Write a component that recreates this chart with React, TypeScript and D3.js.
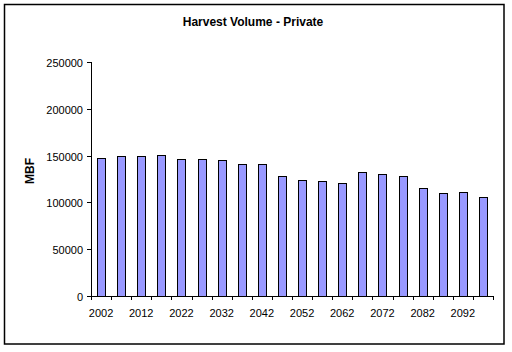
import { useEffect, useRef } from "react";
import * as d3 from "d3";

// Harvest volume per period (MBF)
const years = [
  2002, 2007, 2012, 2017, 2022, 2027, 2032, 2037, 2042, 2047,
  2052, 2057, 2062, 2067, 2072, 2077, 2082, 2087, 2092, 2097,
];
const volumes = [
  147800, 150000, 150000, 150800, 146500, 146500, 145400, 141200, 141200, 128400,
  124100, 123000, 121000, 132700, 130500, 128400, 115600, 110300, 111400, 106100,
];
const yTicks = [0, 50000, 100000, 150000, 200000, 250000];

const App: React.FC = () => {
  const svgRef = useRef<SVGSVGElement | null>(null);

  useEffect(() => {
    if (!svgRef.current) return;
    const svg = d3.select(svgRef.current);
    svg.selectAll("*").remove();

    const width = 512;
    const height = 352;
    const plot = { left: 91, right: 493, top: 62, bottom: 296 };
    const font = "Arial, 'Liberation Sans', sans-serif";

    svg.attr("width", width).attr("height", height);

    svg.append("rect")
      .attr("x", 0).attr("y", 0).attr("width", width).attr("height", height)
      .attr("fill", "white");

    // outer border
    svg.append("rect")
      .attr("x", 4.5).attr("y", 4.5).attr("width", 499.5).attr("height", 339.5)
      .attr("fill", "none").attr("stroke", "black").attr("stroke-width", 1.5);

    const x = d3.scaleBand<number>()
      .domain(years)
      .range([plot.left, plot.right])
      .paddingInner(0.6)
      .paddingOuter(0.3);
    const xBoundary = d3.scaleLinear()
      .domain([0, years.length])
      .range([plot.left, plot.right]);
    const y = d3.scaleLinear().domain([0, 250000]).range([plot.bottom, plot.top]);

    // title
    svg.append("text")
      .attr("x", 253).attr("y", 26)
      .attr("text-anchor", "middle")
      .attr("font-family", font).attr("font-size", 12).attr("font-weight", "bold")
      .text("Harvest Volume - Private");

    // y axis label
    svg.append("text")
      .attr("transform", "translate(34,171) rotate(-90)")
      .attr("text-anchor", "middle")
      .attr("font-family", font).attr("font-size", 12).attr("font-weight", "bold")
      .text("MBF");

    // bars
    svg.selectAll(".bar")
      .data(years.map((yr, i) => ({ yr, v: volumes[i] })))
      .enter()
      .append("rect")
      .attr("class", "bar")
      .attr("x", d => Math.round(x(d.yr) || 0) + 0.5)
      .attr("y", d => Math.round(y(d.v)) + 0.5)
      .attr("width", Math.round(x.bandwidth()))
      .attr("height", d => Math.round(plot.bottom - y(d.v)))
      .attr("fill", "#9999FF")
      .attr("stroke", "black")
      .attr("stroke-width", 1);

    // y axis
    const yAxis = svg.append("g");
    yAxis.append("line")
      .attr("x1", plot.left + 0.5).attr("x2", plot.left + 0.5)
      .attr("y1", plot.top).attr("y2", plot.bottom + 4)
      .attr("stroke", "black");
    yTicks.forEach(t => {
      const yy = Math.round(y(t)) + 0.5;
      yAxis.append("line")
        .attr("x1", plot.left - 4).attr("x2", plot.left)
        .attr("y1", yy).attr("y2", yy)
        .attr("stroke", "black");
      yAxis.append("text")
        .attr("x", 83).attr("y", yy + 4)
        .attr("text-anchor", "end")
        .attr("font-family", font).attr("font-size", 11)
        .text(String(t));
    });

    // x axis
    const xAxis = svg.append("g");
    xAxis.append("line")
      .attr("x1", plot.left).attr("x2", plot.right + 0.5)
      .attr("y1", plot.bottom + 0.5).attr("y2", plot.bottom + 0.5)
      .attr("stroke", "black");
    d3.range(years.length + 1).forEach(i => {
      const xx = Math.round(xBoundary(i)) + 0.5;
      xAxis.append("line")
        .attr("x1", xx).attr("x2", xx)
        .attr("y1", plot.bottom).attr("y2", plot.bottom + 4)
        .attr("stroke", "black");
    });
    years.forEach((yr, i) => {
      if (i % 2 !== 0) return;
      xAxis.append("text")
        .attr("x", (x(yr) || 0) + x.bandwidth() / 2)
        .attr("y", 317)
        .attr("text-anchor", "middle")
        .attr("font-family", font).attr("font-size", 11)
        .text(String(yr));
    });
  }, []);

  return <svg ref={svgRef} style={{ display: "block", position: "absolute", left: 0, top: 0 }} />;
};

export default App;
